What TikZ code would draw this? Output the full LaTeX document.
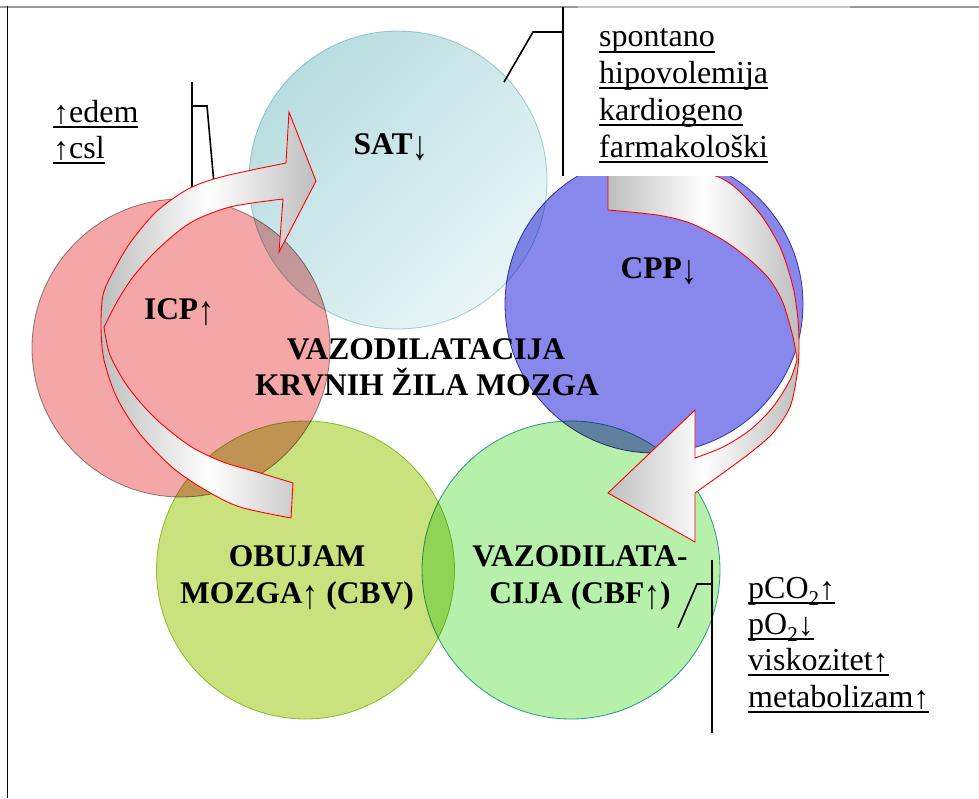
\documentclass[tikz,border=0pt]{standalone}
\usepackage{fontspec}
\usepackage{graphicx}
\setmainfont{Liberation Serif}
\definecolor{satdark}{HTML}{B8DDE0}
\definecolor{satlight}{HTML}{E8F5F6}
\definecolor{satedge}{HTML}{A6D4D8}
\definecolor{icpfill}{HTML}{F5A6A6}
\definecolor{icpedge}{HTML}{8F8F8F}
\definecolor{cppfill}{HTML}{8888EC}
\definecolor{cppedge}{HTML}{4848A8}
\definecolor{obufill}{HTML}{C9E27E}
\definecolor{obuedge}{HTML}{A0C840}
\definecolor{vazfill}{HTML}{B6F0AA}
\definecolor{vazedge}{HTML}{30A0A8}
\definecolor{arrgray}{HTML}{BEBEBE}
\definecolor{framegray}{HTML}{989898}
\definecolor{framelight}{HTML}{C4C4C4}
\newcommand\ulx[1]{\setbox0\hbox{#1}\rlap{\rule[-6pt]{\wd0}{1.8pt}}\box0}
\newcommand\subtwo[1]{\raisebox{-0.22em}{\fontsize{21}{21}\selectfont #1}}
\newcommand\upa{\raisebox{-0.16em}{\scalebox{1}[1.3]{↑}}}
\newcommand\dna{\raisebox{-0.16em}{\scalebox{1}[1.3]{↓}}}
\newcommand\upl{\raisebox{-0.06em}{↑}}
\newcommand\dnl{\raisebox{-0.06em}{↓}}
\begin{document}
\begin{tikzpicture}[x=1pt,y=-1pt,
  circ/.style={circle, minimum size=298pt, inner sep=0pt, line width=0.8pt, blend mode=multiply},
  lbl/.style={font=\fontsize{31.5}{37}\selectfont\bfseries, anchor=base, inner sep=0pt},
  lst/.style={font=\fontsize{32}{37}\selectfont, anchor=base west, inner sep=0pt},
  leader/.style={line width=1.6pt, black},
  bigarrow/.style={draw=red, line width=0.9pt, line join=miter, shading=axis,
    left color=arrgray, right color=arrgray, middle color=white},
]
\useasboundingbox (0,0) rectangle (979,798);
\fill[white] (0,0) rectangle (979,798);

% circles
\node[circ, draw=satedge, top color=satdark, bottom color=satlight, shading angle=45] (sat) at (398,180) {};
\node[circ, draw=icpedge, fill=icpfill] (icp) at (181,348) {};
\node[circ, draw=cppedge, fill=cppfill] (cpp) at (654,304) {};
\node[circ, draw=obuedge, fill=obufill] (obu) at (305.5,570) {};
\node[circ, draw=vazedge, fill=vazfill] (vaz) at (571,570) {};

% circle labels
\node[lbl] (satt) at (391,154) {SAT\dna};
\node[lbl] (icpt) at (179,319) {ICP\upa};
\node[lbl] (cppt) at (659,278) {CPP\dna};
\node[lbl] (vk1) at (426,359) {VAZODILATACIJA};
\node[lbl] (vk2) at (427,395) {KRVNIH ŽILA MOZGA};
\node[lbl] (ob1) at (297,566) {OBUJAM};
\node[lbl] (ob2) at (297,603) {MOZGA\upa{} (CBV)};
\node[lbl] (vz1) at (580,566) {VAZODILATA-};
\node[lbl] (vz2) at (580,603) {CIJA (CBF\upa)};

% edem leader (under the arrow)
\coordinate (edemtop) at (192,82);
\coordinate (edemknee) at (207,106);
\coordinate (edemend) at (215,195);
\draw[leader] (edemtop) -- (192,195);
\draw[leader] (192,106) -- (edemknee) -- (edemend);

% left curved arrow
\path[bigarrow] plot[smooth] coordinates {(291,518) (240,507) (207,491) (173,468) (140,434) (117,398) (104,360) (101,327) (103,295) (113,272) (130,243) (157,211) (190,188) (225,176) (286,163)}
  -- (289,112) -- (316,181) -- (279,252)
  -- plot[smooth] coordinates {(283,199) (230,207) (190,223) (157,250) (133,277) (118,300) (104,327)}
  -- plot[smooth] coordinates {(104,327) (110,355) (128,387) (155,418) (190,446) (223,462) (257,472) (293,483)}
  -- cycle;

% right curved arrow
\path[bigarrow] (608,210) -- (608,160)
  -- plot[smooth] coordinates {(608,160) (670,166) (723,179) (757,210) (780,247) (793,287) (798,320) (799,350) (797,375) (790,407) (773,433) (750,453) (723,473) (695,493)}
  -- (695,542) -- (608,493) -- (695,410) -- (695,458)
  -- plot[smooth] coordinates {(695,458) (723,447) (750,430) (773,407) (790,380) (797,360)}
  -- plot[smooth] coordinates {(797,360) (793,337) (783,303) (770,280) (750,260) (723,240) (690,223) (657,215) (608,210)}
  -- cycle;

% text box covering the top right
\fill[white] (563.8,0) rectangle (979,175.5);

% frame
\draw[framegray, line width=1.6pt] (0,7) -- (578,7);
\draw[framelight, line width=1.6pt] (578,7) -- (850,7);
\draw[framegray, line width=1.6pt] (850,7) -- (979,7);
\draw[black, line width=1pt] (7.5,6.2) -- (7.5,798);

% upper right leader
\coordinate (sattop) at (563,7);
\coordinate (satknee) at (533,32);
\coordinate (satend) at (504,82);
\draw[leader] (sattop) -- (563,175.5);
\draw[leader] (563,32) -- (satknee) -- (satend);

% lower right leader
\coordinate (vaztop) at (712,560);
\coordinate (vazknee) at (697,584);
\coordinate (vazend) at (678,628);
\draw[leader] (vaztop) -- (712,733);
\draw[leader] (712,584) -- (vazknee) -- (vazend);

% lists
\node[lst] (e1) at (53,122) {\ulx{\upl edem}};
\node[lst] (e2) at (53,158) {\ulx{\upl csl}};
\node[lst] (s1) at (599,46.5) {\ulx{spontano}};
\node[lst] (s2) at (599,83) {\ulx{hipovolemija}};
\node[lst] (s3) at (599,120) {\ulx{kardiogeno}};
\node[lst] (s4) at (599,157) {\ulx{farmakološki}};
\node[lst] (p1) at (748,598) {\ulx{pCO\subtwo{2}\upl}};
\node[lst] (p2) at (748,634) {\ulx{pO\subtwo{2}\dnl}};
\node[lst] (p3) at (748,670) {\ulx{viskozitet\upl}};
\node[lst] (p4) at (748,707) {\ulx{metabolizam\upl}};
\end{tikzpicture}
\end{document}
